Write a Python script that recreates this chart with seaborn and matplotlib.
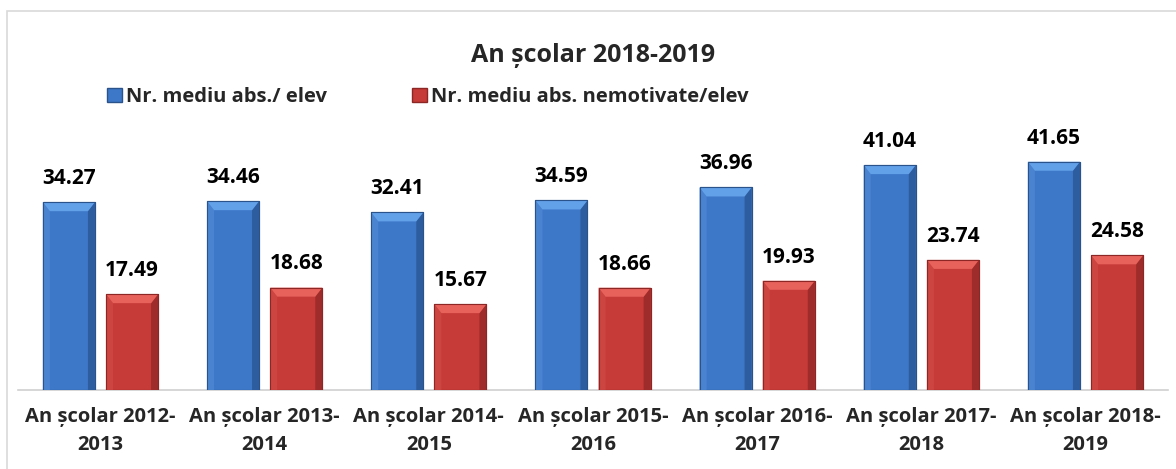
import pandas as pd
import numpy as np
import matplotlib
matplotlib.use('Agg')
import matplotlib.pyplot as plt
from matplotlib.patches import Polygon, Rectangle, Patch
import seaborn as sns

years = ['An școlar 2012-\n2013', 'An școlar 2013-\n2014', 'An școlar 2014-\n2015',
         'An școlar 2015-\n2016', 'An școlar 2016-\n2017', 'An școlar 2017-\n2018',
         'An școlar 2018-\n2019']
abs_total = [34.27, 34.46, 32.41, 34.59, 36.96, 41.04, 41.65]
abs_nemot = [17.49, 18.68, 15.67, 18.66, 19.93, 23.74, 24.58]
series = ['Nr. mediu abs./ elev', 'Nr. mediu abs. nemotivate/elev']

face = ['#3d78c8', '#c63a37']
top_col = ['#62a0e8', '#e8625c']
left_col = ['#4a84d0', '#cc4541']
right_col = ['#2d5d9f', '#9e2c2a']
edge_col = ['#2a538c', '#8c2725']

df = pd.DataFrame({
    'an': years * 2,
    'val': abs_total + abs_nemot,
    'serie': [series[0]] * len(years) + [series[1]] * len(years),
})

sns.set_style('white')
plt.rcParams['font.family'] = ['Open Sans', 'DejaVu Sans']
plt.rcParams['font.weight'] = 'bold'

fig = plt.figure(figsize=(11.76, 4.69), dpi=100)
W, H = 1176, 469
ax = fig.add_axes([18.4 / W, 79 / H, (1167.6 - 18.4) / W, (390 - 116) / H])

sns.barplot(data=df, x='an', y='val', hue='serie', palette=face, width=0.77, gap=0.177,
            ax=ax, legend=False, saturation=1)
ax.set_xlim(-0.5, len(years) - 0.5)
ax.set_ylim(0, 50)

# bevel look
dx = 7 * len(years) / (1167.6 - 18.4)
dy = 9 * 50 / (390 - 116)
for k, cont in enumerate(ax.containers):
    for p in cont.patches:
        x, y, w, h = p.get_x(), p.get_y(), p.get_width(), p.get_height()
        p.set_edgecolor(edge_col[k])
        p.set_linewidth(0.8)
        ax.add_patch(Polygon([(x, y), (x, y + h), (x + dx, y + h - dy), (x + dx, y)],
                             closed=True, fc=left_col[k], ec='none', zorder=3))
        ax.add_patch(Polygon([(x + w, y), (x + w, y + h), (x + w - dx, y + h - dy), (x + w - dx, y)],
                             closed=True, fc=right_col[k], ec='none', zorder=3))
        ax.add_patch(Polygon([(x, y + h), (x + w, y + h), (x + w - dx, y + h - dy), (x + dx, y + h - dy)],
                             closed=True, fc=top_col[k], ec='none', zorder=3))
        ax.add_patch(Rectangle((x, y), w, h, fc='none', ec=edge_col[k], lw=0.8, zorder=4))
    ax.bar_label(cont, fmt='%.2f', padding=9.5, fontsize=15, fontweight='bold', color='black')

for s in ['top', 'right', 'left']:
    ax.spines[s].set_visible(False)
ax.spines['bottom'].set_color('#d0d0d0')
ax.spines['bottom'].set_linewidth(1.2)
ax.spines['bottom'].set_zorder(0.5)
ax.set_yticks([])
ax.set_xlabel('')
ax.set_ylabel('')
ax.tick_params(axis='x', length=0, pad=12, labelsize=14.5)
for t in ax.get_xticklabels():
    t.set_fontweight('bold')
    t.set_linespacing(1.55)

handles = [Patch(fc=face[i], ec=edge_col[i]) for i in range(2)]
fig.legend(handles, series, loc='upper left', bbox_to_anchor=(107 / W, 1 - 87 / H),
           ncol=2, frameon=False, handlelength=0.75, handleheight=0.75,
           handletextpad=0.2, columnspacing=4.2, borderpad=0, borderaxespad=0,
           prop={'weight': 'bold', 'size': 14.5})

fig.text(593 / W, 1 - 55 / H, 'An școlar 2018-2019', ha='center', va='center',
         fontsize=18, fontweight='bold')

fig.add_artist(Rectangle((7 / W, -0.1), 1.2, 1.1 - 11 / H, transform=fig.transFigure,
                         fc='none', ec='#d9d9d9', lw=1.2))

fig.savefig('out.png', dpi=100)
